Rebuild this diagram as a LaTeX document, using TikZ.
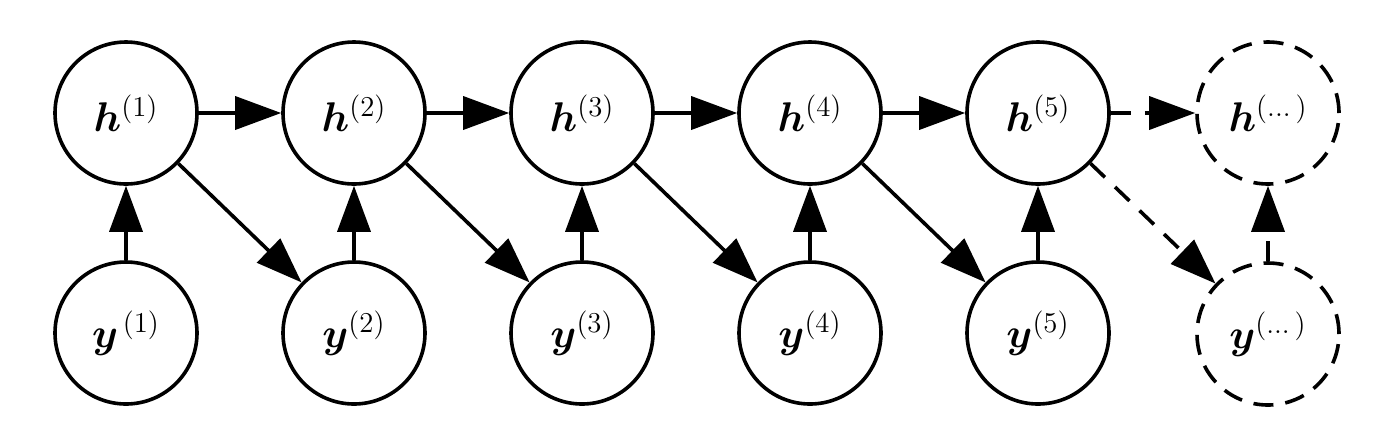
\documentclass[tikz,border=0pt]{standalone}
\usepackage{amsmath,bm}
\usetikzlibrary{arrows.meta}
\begin{document}
\begin{tikzpicture}[x=0.5pt,y=-0.5pt,
  var/.style={circle,draw,line width=1.8pt,minimum size=71pt,inner sep=0pt,
    font=\huge},
  dvar/.style={var,dash pattern=on 10pt off 6pt},
  edge/.style={line width=1.8pt,-{Triangle[length=23pt,width=16.5pt]}},
  dedge/.style={edge,dash pattern=on 10pt off 7pt}]
\useasboundingbox (0,0) rectangle (1376,436);
\foreach \i/\x in {1/126,2/354,3/582,4/810,5/1038}{
  \node[var] (h\i) at (\x,113) {$\bm{h}^{(\i)}$};
}
\node[var] (y1) at (126,333) {$\bm{y}^{\,(1)}$};
\foreach \i/\x in {2/354,3/582,4/810,5/1038}{
  \node[var] (y\i) at (\x,333) {$\bm{y}^{(\i)}$};
}
\node[dvar] (h6) at (1268,113) {$\bm{h}^{(\dots)}$};
\node[dvar] (y6) at (1268,334) {$\bm{y}^{(\dots)}$};
\foreach \i/\j in {1/2,2/3,3/4,4/5}{
  \draw[edge] (h\i) -- (h\j);
  \draw[edge] (h\i) -- (y\j);
}
\foreach \i in {1,...,5}{
  \draw[edge] (y\i) -- (h\i);
}
\draw[dedge] (h5) -- (h6);
\draw[dedge] (h5) -- (y6);
\draw[dedge] (y6) -- (h6);
\end{tikzpicture}
\end{document}
